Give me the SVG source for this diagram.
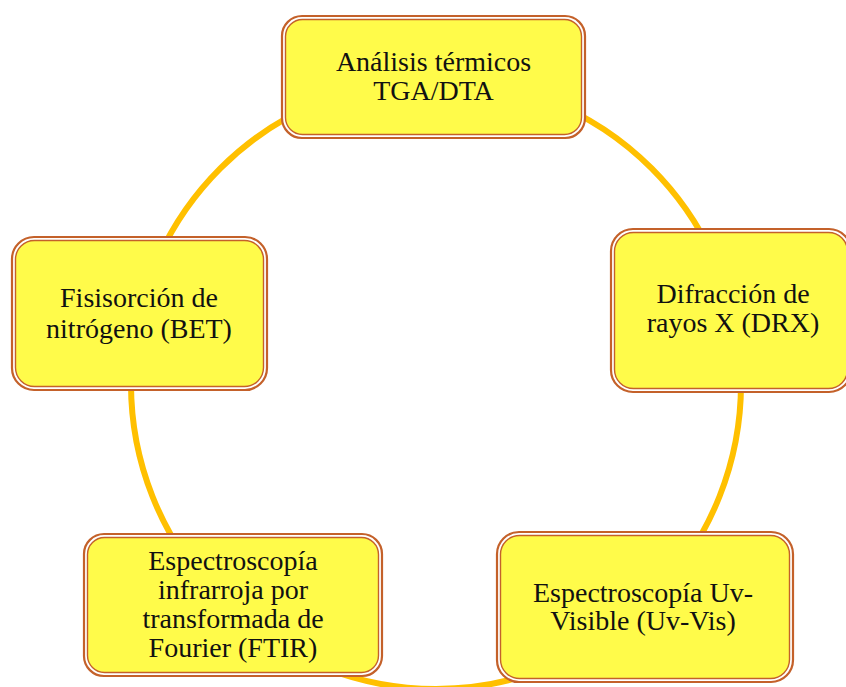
<svg xmlns="http://www.w3.org/2000/svg" width="846" height="687" viewBox="0 0 846 687">
<style>
.outer{fill:#ffffff;stroke:#C4612A;stroke-width:2.2}
.inner{fill:#FFFB4A;stroke:#C4612A;stroke-width:1.4}
.t{font-family:"Liberation Serif","Times New Roman",serif;font-size:28px;fill:#111;text-anchor:middle}
.ring{fill:none;stroke:#FFC000;stroke-width:6}
</style>
<rect width="846" height="687" fill="#ffffff"/>
<g id="connectors">
<circle class="ring" cx="436" cy="384" r="305"/>
</g>
<g id="node-tga">
<rect class="outer" x="282" y="16" width="303" height="122" rx="20"/>
<rect class="inner" x="285.5" y="19.5" width="296" height="115" rx="17"/>
<text class="t" x="433.5" y="71">Análisis térmicos</text>
<text class="t" x="433.5" y="100">TGA/DTA</text>
</g>
<g id="node-bet">
<rect class="outer" x="12" y="237" width="255" height="153" rx="22"/>
<rect class="inner" x="15.5" y="240.5" width="248" height="146" rx="19"/>
<text class="t" x="139" y="307">Fisisorción de</text>
<text class="t" x="139" y="338">nitrógeno (BET)</text>
</g>
<g id="node-drx">
<rect class="outer" x="611" y="229" width="240" height="163" rx="22"/>
<rect class="inner" x="614.5" y="232.5" width="233" height="156" rx="19"/>
<text class="t" x="733" y="303">Difracción de</text>
<text class="t" x="733" y="332">rayos X (DRX)</text>
</g>
<g id="node-ftir">
<rect class="outer" x="84" y="534" width="298" height="142" rx="20"/>
<rect class="inner" x="87.5" y="537.5" width="291" height="135" rx="17"/>
<text class="t" x="233" y="570">Espectroscopía</text>
<text class="t" x="233" y="599">infrarroja por</text>
<text class="t" x="233" y="628">transformada de</text>
<text class="t" x="233" y="657">Fourier (FTIR)</text>
</g>
<g id="node-uvvis">
<rect class="outer" x="497" y="532" width="296" height="150" rx="22"/>
<rect class="inner" x="500.5" y="535.5" width="289" height="143" rx="19"/>
<text class="t" x="643" y="602">Espectroscopía Uv-</text>
<text class="t" x="643" y="630">Visible (Uv-Vis)</text>
</g>
</svg>
